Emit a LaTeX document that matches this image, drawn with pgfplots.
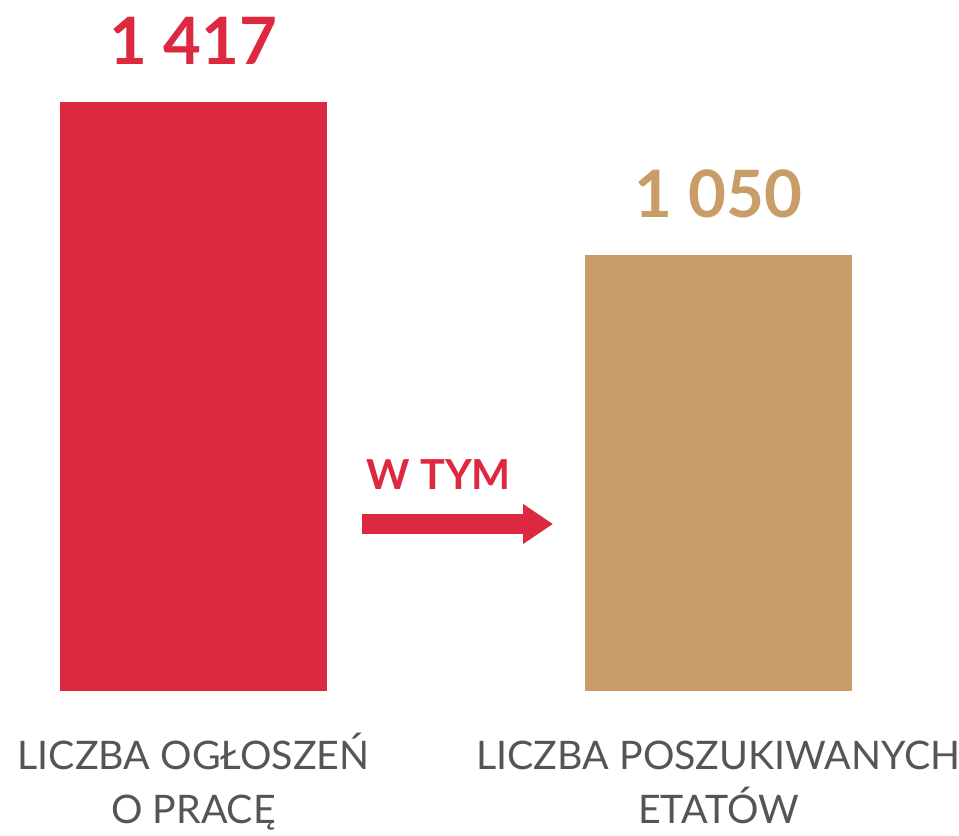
\documentclass[border=0pt]{standalone}
\usepackage{pgfplots}
\pgfplotsset{compat=1.18}
\usepackage{fontspec}
\setmainfont{Lato}
\usetikzlibrary{arrows.meta}
\definecolor{cred}{HTML}{DC2940}
\definecolor{ctan}{HTML}{C89D68}
\definecolor{cgray}{HTML}{555555}
\begin{document}
\begin{tikzpicture}
\useasboundingbox (0,0) rectangle (719.25pt,626.25pt);
\begin{axis}[
  at={(0,0)}, anchor=south west,
  scale only axis, width=719.25pt, height=626.25pt,
  hide axis,
  xmin=-0.3686, xmax=1.4581,
  ymin=-346.4, ymax=1662.4,
  clip=false,
  ybar, bar width=200.25pt,
  /pgf/number format/assume math mode=true,
  nodes near coords={\pgfmathprintnumber[1000 sep={\ }, assume math mode=true]{\pgfplotspointmeta}},
  every node near coord/.append style={anchor=base, yshift=27.75pt, inner sep=0pt,
    font=\fontsize{49}{49}\selectfont\bfseries},
]
\addplot[fill=cred, draw=none, bar shift=0pt, nodes near coords style={text=cred}] coordinates {(0,1417)};
\addplot[fill=ctan, draw=none, bar shift=0pt, nodes near coords style={text=ctan}] coordinates {(1,1050)};
\draw[cred, line width=15pt, -{Triangle[length=22.5pt,width=28.5pt]}] (axis cs:0.321,401.8) -- (axis cs:0.6848,401.8);
\node[text=cred, font=\fontsize{31}{31}\selectfont\bfseries] at (axis cs:0.4676,519.6) {W TYM};
\node[text=cgray, align=center, font=\fontsize{29.5}{40}\selectfont, anchor=base] at (axis cs:0,-318) {LICZBA OGŁOSZEŃ\\O PRACĘ};
\node[text=cgray, align=center, font=\fontsize{29.5}{40}\selectfont, anchor=base] at (axis cs:1,-318) {LICZBA POSZUKIWANYCH\\ETATÓW};
\end{axis}
\end{tikzpicture}
\end{document}
